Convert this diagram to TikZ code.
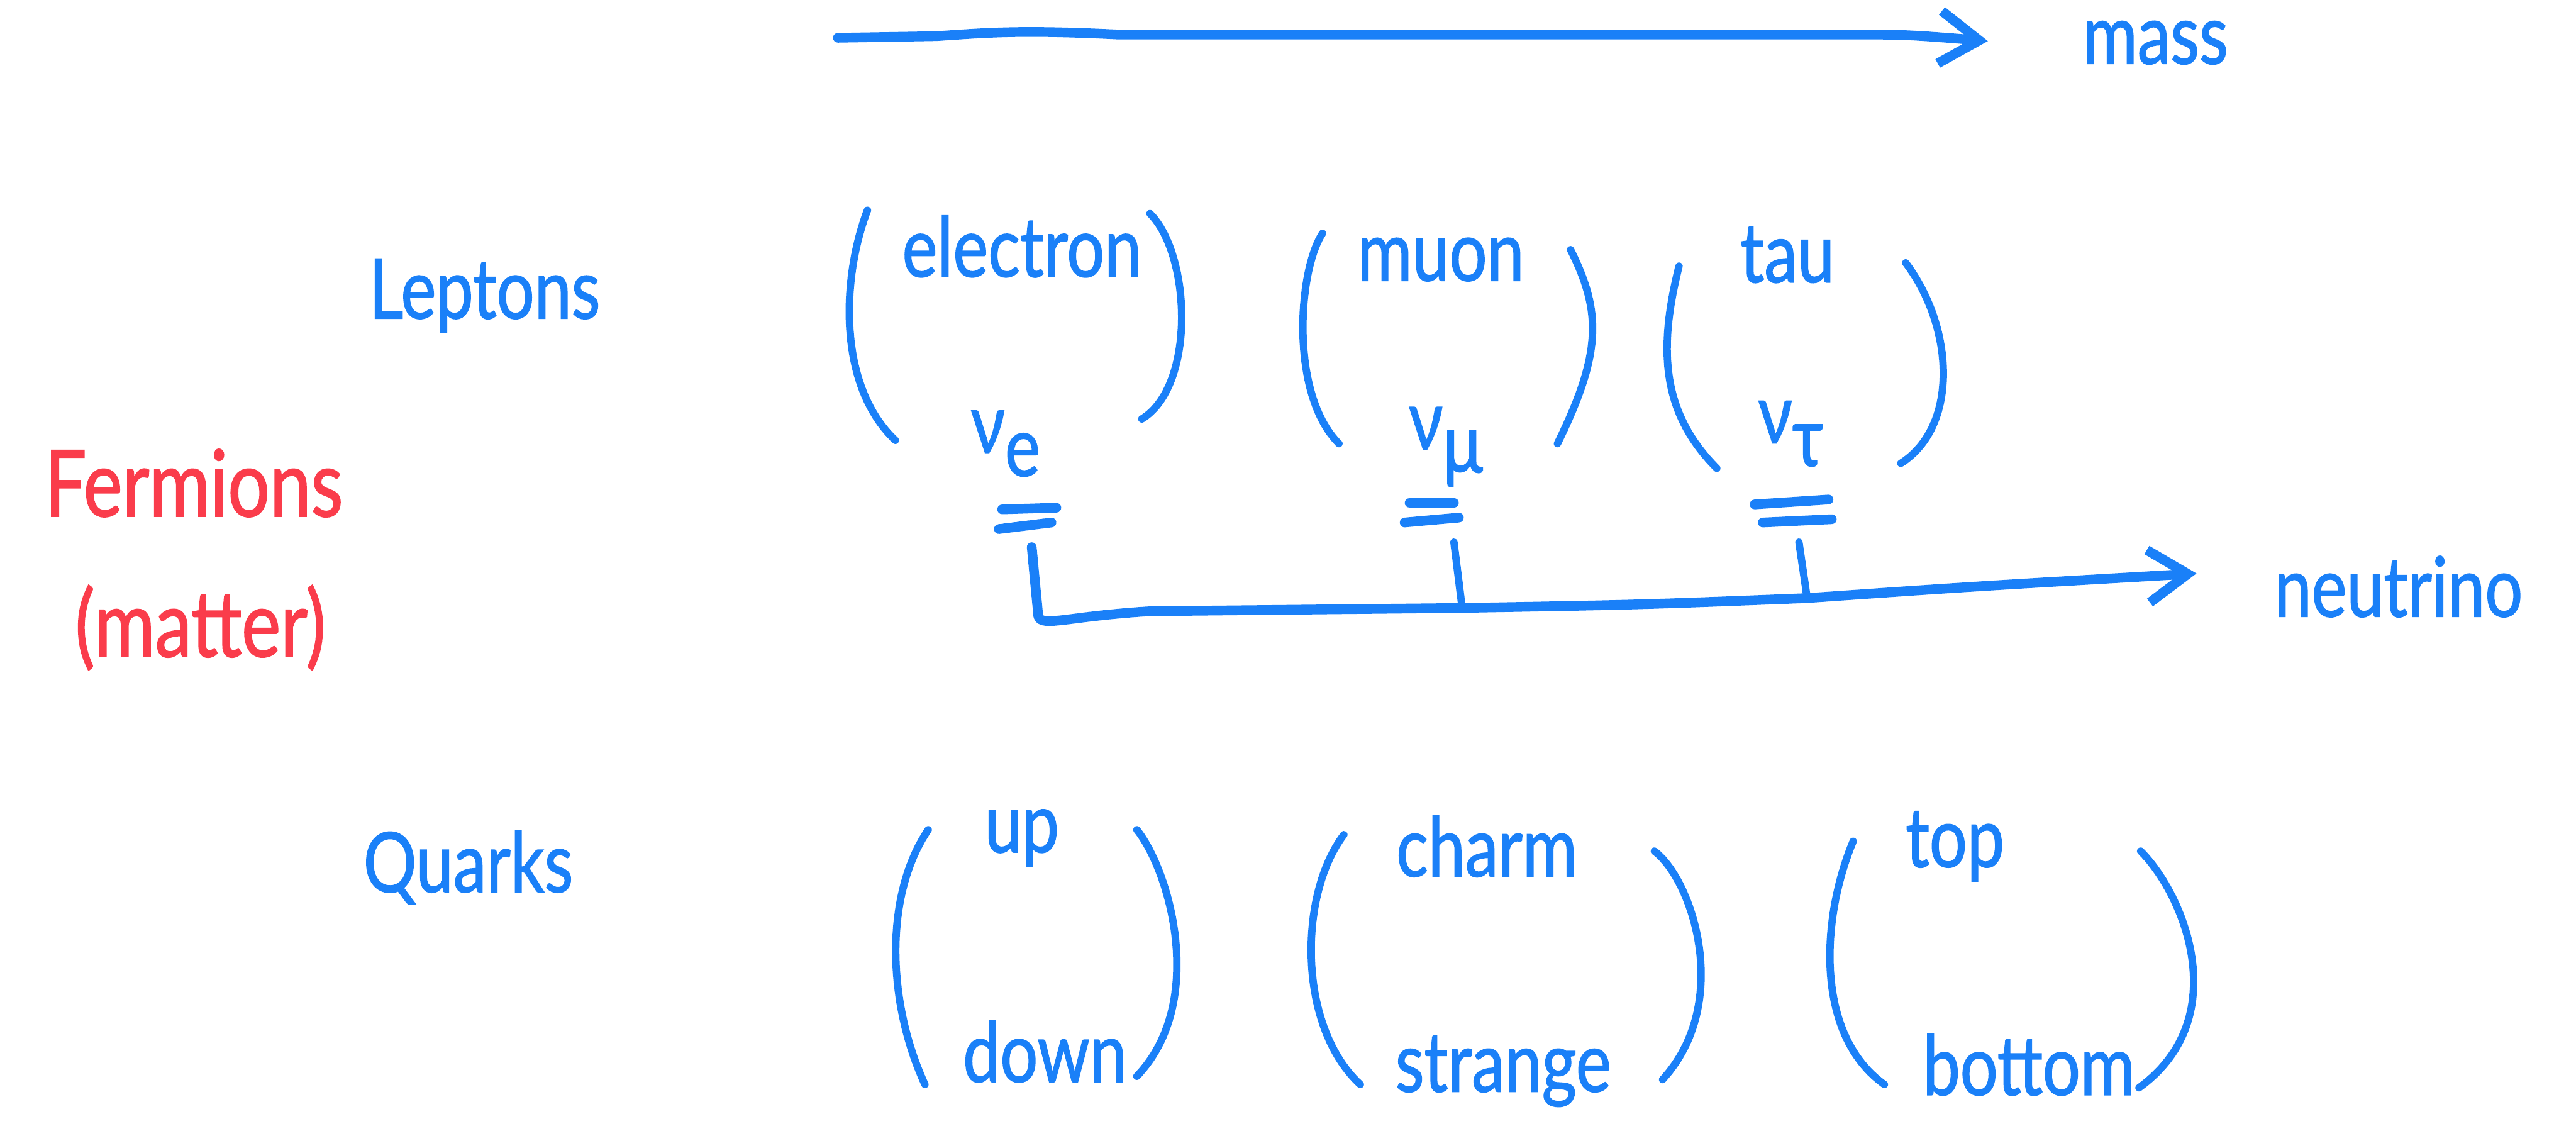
\documentclass[tikz,border=0pt]{standalone}
\usepackage{fontspec}
\setmainfont{Lato}[FakeStretch=0.8, FakeBold=1.2]
\usetikzlibrary{arrows.meta}
\definecolor{inkblue}{RGB}{26,128,248}
\definecolor{inkred}{RGB}{250,60,75}
\newcommand{\nusub}[1]{ν\raisebox{-0.55ex}{#1}}
\tikzset{
  ink/.style={draw=inkblue, line width=3.2pt, line cap=round, line join=round},
  bold ink/.style={draw=inkblue, line width=4.2pt, line cap=round, line join=round},
  hand/.style={text=inkblue, inner sep=0pt, font=\fontsize{36}{40}\selectfont},
  redhand/.style={text=inkred, inner sep=0pt, font=\fontsize{40}{44}\selectfont},
  barb/.style={-{Straight Barb[length=6mm,width=8mm]}},
}
\begin{document}
\begin{tikzpicture}[x=0.25mm, y=-0.25mm]
\useasboundingbox (0,0) rectangle (1568,691);

% mass axis
\coordinate (m0) at (510,23);
\coordinate (m1) at (1210,25);
\draw[bold ink, barb] (m0) -- (570,22) .. controls (600,20) and (620,18) .. (680,21) -- (1120,21) .. controls (1160,21) .. (m1);
\node[hand] (mass) at (1312,26) {mass};

% group labels
\node[hand] (leptons) at (295,180) {Leptons};
\node[hand] (quarks) at (285,528) {Quarks};
\node[redhand] (fermions) at (118,294) {Fermions};
\node[redhand] (matter) at (122,382) {(matter)};

% lepton generations
\draw[ink] (528,128) .. controls (512,170) and (510,235) .. (545,268);
\node[hand] (electron) at (622,150) {electron};
\draw[ink] (700,130) .. controls (725,155) and (728,235) .. (695,255);
\node[hand] (nue) at (612,270) {\nusub{e}};

\draw[ink] (805,142) .. controls (790,165) and (785,240) .. (815,270);
\node[hand] (muon) at (877,158) {muon};
\draw[ink] (956,152) .. controls (975,190) and (975,215) .. (948,270);
\node[hand] (numu) at (880,272) {\nusub{μ}};

\draw[ink] (1022,162) .. controls (1010,210) and (1010,250) .. (1045,285);
\node[hand] (tau) at (1088,155) {tau};
\draw[ink] (1160,160) .. controls (1190,200) and (1192,260) .. (1157,282);
\node[hand] (nutau) at (1090,264) {\nusub{τ}};

% equal signs under the neutrinos
\draw[bold ink] (610,310) -- (643,309);
\draw[bold ink] (608,322) -- (640,318);
\draw[bold ink] (858,306) -- (885,306);
\draw[bold ink] (855,318) -- (888,315);
\draw[bold ink] (1068,307) -- (1113,304);
\draw[bold ink] (1073,318) -- (1115,316);

% neutrino axis with the three ticks
\coordinate (ta) at (628,333);
\coordinate (tb) at (885,330);
\coordinate (tc) at (1095,330);
\coordinate (ba) at (632,375);
\coordinate (bb) at (890,370);
\coordinate (bc) at (1100,364);
\coordinate (n1) at (1337,349);
\draw[bold ink, barb] (ta) -- (ba) .. controls (634,382) and (650,375) .. (700,372) -- (bb) .. controls (1000,368) .. (bc) .. controls (1200,357) .. (n1);
\draw[ink] (tb) -- (bb);
\draw[ink] (tc) -- (bc);
\node[hand] (neutrino) at (1460,357) {neutrino};

% quark generations
\draw[ink] (565,505) .. controls (538,545) and (540,610) .. (563,660);
\node[hand] (up) at (622,510) {up};
\node[hand] (down) at (636,640) {down};
\draw[ink] (692,505) .. controls (712,530) and (735,610) .. (692,655);

\draw[ink] (818,508) .. controls (790,545) and (790,625) .. (828,660);
\node[hand] (charm) at (905,515) {charm};
\node[hand] (strange) at (915,652) {strange};
\draw[ink] (1007,518) .. controls (1030,535) and (1055,610) .. (1012,657);

\draw[ink] (1128,512) .. controls (1108,560) and (1105,630) .. (1147,660);
\node[hand] (top) at (1190,515) {top};
\node[hand] (bottom) at (1235,648) {bottom};
\draw[ink] (1303,518) .. controls (1330,545) and (1360,620) .. (1302,662);
\end{tikzpicture}
\end{document}
